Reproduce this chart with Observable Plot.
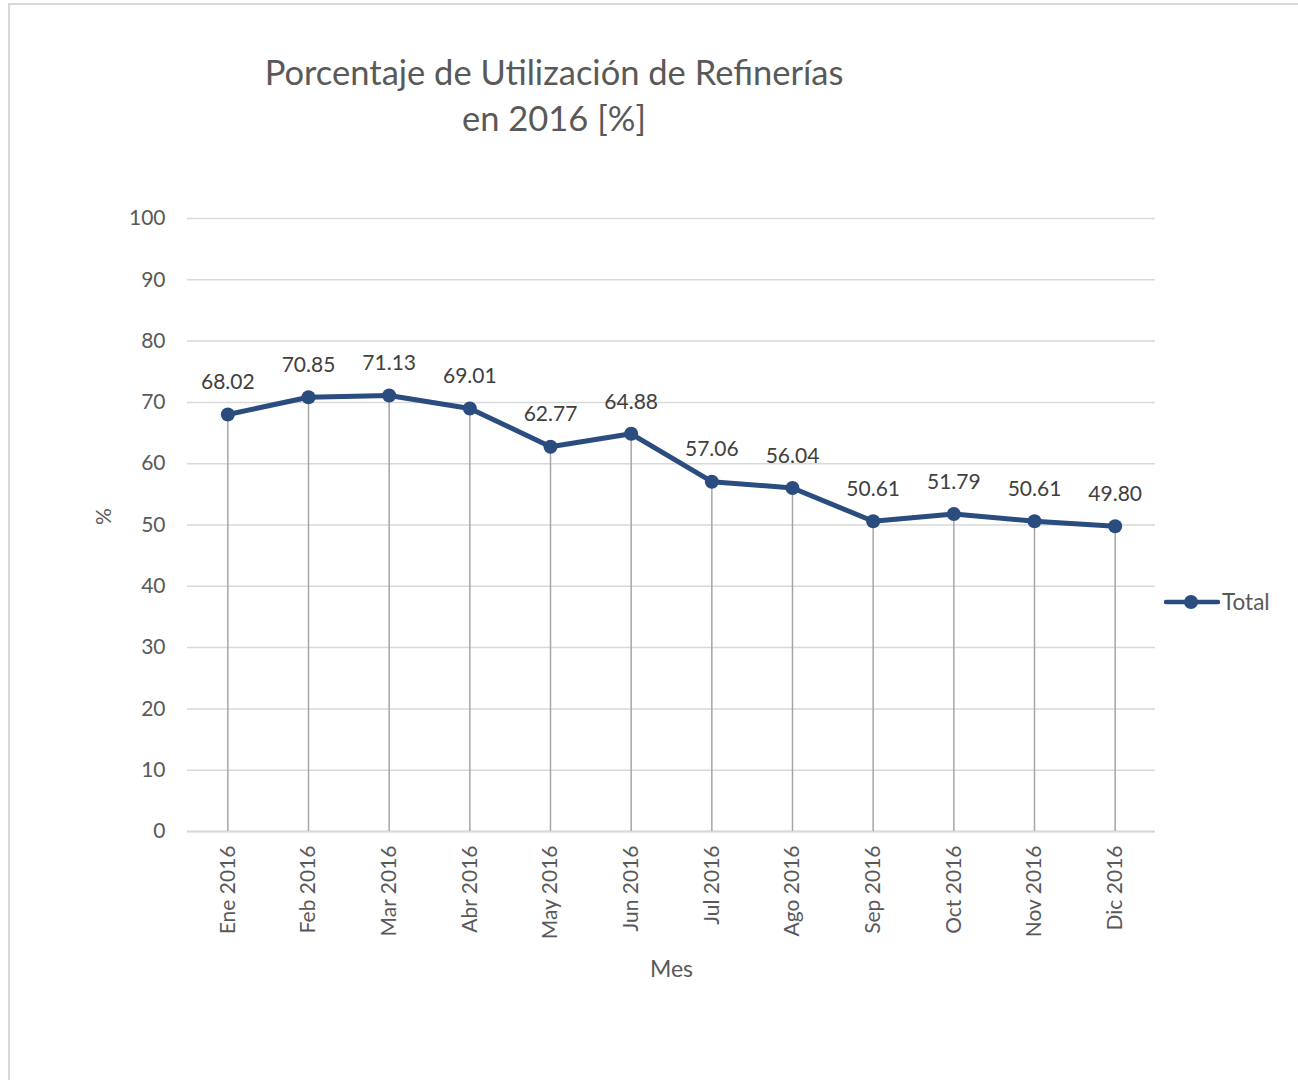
<!DOCTYPE html>
<html>
<head>
<meta charset="utf-8">
<script src="https://cdn.jsdelivr.net/npm/d3@7"></script>
<script src="https://cdn.jsdelivr.net/npm/@observablehq/plot@0.6"></script>
<style>
  body { margin: 0; background: #fff; font-family: Lato, "Open Sans", sans-serif; }
  #wrap { position: relative; width: 1298px; height: 1080px; overflow: hidden; }
  #frame { position: absolute; left: 8px; top: 3px; width: 1400px; height: 1200px; border-left: 2px solid #d9d9d9; border-top: 2px solid #d9d9d9; }
  #title { position: absolute; left: 204px; width: 700px; top: 49px; text-align: center; color: #595959; font-size: 34.5px; line-height: 46px; }
  #legend { position: absolute; left: 1164px; top: 588px; color: #595959; font-size: 22.5px; display: flex; align-items: center; }
  #chart { position: absolute; left: 0; top: 0; }
</style>
</head>
<body>
<div id="wrap">
  <div id="frame"></div>
  <div id="chart"></div>
  <div id="title">Porcentaje de Utilización de Refinerías<br>en 2016 [%]</div>
  <div id="legend"><svg width="56" height="16"><line x1="2" y1="8" x2="54" y2="8" stroke="#2b4c7e" stroke-width="4.5" stroke-linecap="round"></line><circle cx="27" cy="8" r="7" fill="#2b4c7e"></circle></svg><span style="margin-left:2px">Total</span></div>
</div>
<script>
const months = ["Ene 2016","Feb 2016","Mar 2016","Abr 2016","May 2016","Jun 2016","Jul 2016","Ago 2016","Sep 2016","Oct 2016","Nov 2016","Dic 2016"];
const values = [68.02, 70.85, 71.13, 69.01, 62.77, 64.88, 57.06, 56.04, 50.61, 51.79, 50.61, 49.80];
const yTicks = [0, 10, 20, 30, 40, 50, 60, 70, 80, 90, 100];
const xLabel = "Mes";
const yLabel = "%";
const seriesColor = "#2b4c7e";

const data = months.map((m, i) => ({mes: m, valor: values[i]}));

const chart = Plot.plot({
  width: 1298,
  height: 1080,
  marginLeft: 187,
  marginRight: 143,
  marginTop: 218,
  marginBottom: 249,
  style: {fontFamily: "Lato, 'Open Sans', sans-serif", fontSize: "21px", color: "#595959", background: "transparent"},
  x: {type: "point", domain: months, padding: 0.5, align: 0.5, round: false, label: null},
  y: {domain: [0, 100], label: null},
  marks: [
    Plot.gridY(yTicks, {stroke: "#d9d9d9", strokeOpacity: 1, strokeWidth: 1.5}),
    Plot.ruleY([0], {stroke: "#d9d9d9", strokeWidth: 2}),
    Plot.ruleX(data, {x: "mes", y1: 0, y2: "valor", stroke: "#a6a6a6", strokeWidth: 1.5}),
    Plot.line(data, {x: "mes", y: "valor", stroke: seriesColor, strokeWidth: 5, strokeLinejoin: "round"}),
    Plot.dot(data, {x: "mes", y: "valor", r: 7, fill: seriesColor, stroke: "none"}),
    Plot.text(data, {x: "mes", y: "valor", text: d => d.valor.toFixed(2), dy: -32, fill: "#404040", fontSize: 21}),
    Plot.axisY(yTicks, {tickSize: 0, tickPadding: 22, label: null, fontSize: 21, fill: "#595959"}),
    Plot.axisX({tickSize: 0, tickPadding: 14, tickRotate: -90, label: null, fontSize: 21, fill: "#595959"}),
    Plot.text([xLabel], {frameAnchor: "bottom", dy: 145, fill: "#595959", fontSize: 23}),
    Plot.text([yLabel], {frameAnchor: "left", dx: -83, rotate: -90, fill: "#595959", fontSize: 21})
  ]
});
document.getElementById("chart").appendChild(chart);
</script>
</body>
</html>
